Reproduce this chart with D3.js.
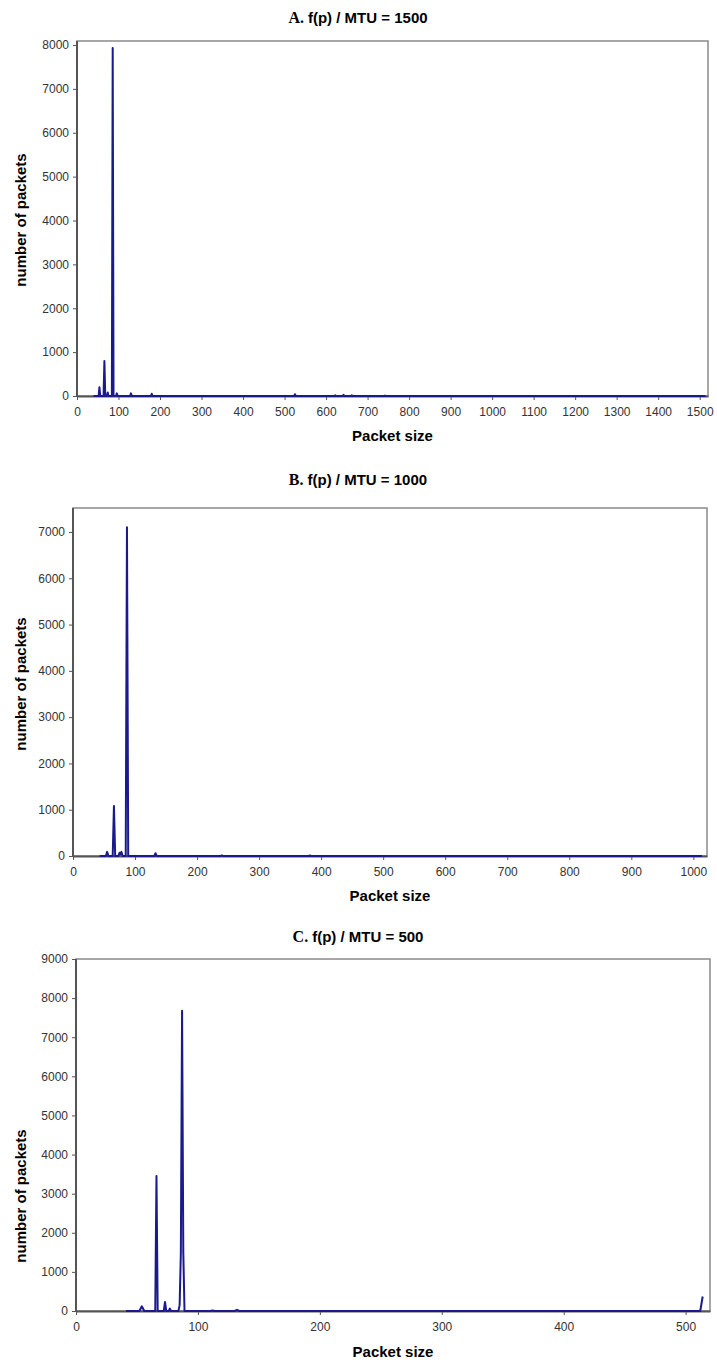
<!DOCTYPE html>
<html>
<head>
<meta charset="utf-8">
<script src="https://cdn.jsdelivr.net/npm/d3@7"></script>
<style>
  body { margin: 0; background: #fff; }
  text { font-family: 'Liberation Sans', Arial, sans-serif; }
</style>
</head>
<body>
<div id="viz"></div>
<script>
(function () {
  'use strict';

  // ---- data ----
  // A. MTU = 1500
  var sizesA  = [40, 52, 54, 56, 64, 66, 68, 72, 74, 76, 84, 86, 88, 94, 96, 98, 128, 130, 132, 178, 180, 182, 523, 525, 527, 620, 622, 624, 640, 642, 644, 660, 662, 664, 740, 742, 744, 1514];
  var countsA = [0, 0, 200, 0, 0, 800, 0, 0, 80, 0, 0, 7930, 0, 0, 60, 0, 0, 60, 0, 0, 50, 0, 0, 40, 0, 0, 15, 0, 0, 25, 0, 0, 15, 0, 0, 10, 0, 0];
  var xTicksA = [0, 100, 200, 300, 400, 500, 600, 700, 800, 900, 1000, 1100, 1200, 1300, 1400, 1500];
  var yTicksA = [0, 1000, 2000, 3000, 4000, 5000, 6000, 7000, 8000];

  // B. MTU = 1000
  var sizesB  = [43, 53, 55, 57, 64, 66, 68, 73, 75, 76, 78, 80, 85, 87, 89, 131, 133, 135, 238, 240, 242, 380, 382, 384, 1014];
  var countsB = [0, 0, 90, 0, 0, 1080, 0, 0, 70, 30, 90, 0, 0, 7100, 0, 0, 60, 0, 0, 15, 0, 0, 10, 0, 0];
  var xTicksB = [0, 100, 200, 300, 400, 500, 600, 700, 800, 900, 1000];
  var yTicksB = [0, 1000, 2000, 3000, 4000, 5000, 6000, 7000];

  // C. MTU = 500
  var sizesC  = [41, 52, 54, 56, 65, 66, 67, 72, 73, 74, 76, 77, 78, 84, 85, 86, 87, 88, 89, 110, 112, 114, 130, 132, 134, 512, 514];
  var countsC = [0, 0, 120, 0, 0, 3450, 0, 0, 230, 0, 0, 60, 0, 0, 150, 1500, 7680, 1500, 0, 0, 10, 0, 0, 30, 0, 0, 370];
  var xTicksC = [0, 100, 200, 300, 400, 500];
  var yTicksC = [0, 1000, 2000, 3000, 4000, 5000, 6000, 7000, 8000, 9000];

  var xLabel = 'Packet size';
  var yLabel = 'number of packets';

  // ---- layout ----
  var panels = [
    { letter: 'A.', title: 'f(p) / MTU = 1500', sizes: sizesA, counts: countsA, xTicks: xTicksA, yTicks: yTicksA,
      xMax: 1520, left: 77, right: 708, top: 41, bottom: 396, yMax: 8000, yMaxPx: 45, titleY: 23, xLabelY: 441, yLabelY: 220 },
    { letter: 'B.', title: 'f(p) / MTU = 1000', sizes: sizesB, counts: countsB, xTicks: xTicksB, yTicks: yTicksB,
      xMax: 1022, left: 73, right: 707, top: 508, bottom: 856, yMax: 7000, yMaxPx: 532, titleY: 485, xLabelY: 901, yLabelY: 684 },
    { letter: 'C.', title: 'f(p) / MTU = 500', sizes: sizesC, counts: countsC, xTicks: xTicksC, yTicks: yTicksC,
      xMax: 520, left: 76, right: 710, top: 959, bottom: 1311, yMax: 9000, yMaxPx: 959, titleY: 942, xLabelY: 1357, yLabelY: 1196 }
  ];

  var svg = d3.select('#viz')
    .append('svg')
    .attr('width', 717)
    .attr('height', 1366)
    .style('display', 'block');

  panels.forEach(drawPanel);

  function drawPanel(p) {
    var x = d3.scaleLinear().domain([0, p.xMax]).range([p.left, p.right]);
    var y = d3.scaleLinear().domain([0, p.yMax]).range([p.bottom, p.yMaxPx]);
    var g = svg.append('g');

    // plot frame (top / right)
    g.append('rect')
      .attr('x', p.left).attr('y', p.top)
      .attr('width', p.right - p.left).attr('height', p.bottom - p.top)
      .attr('fill', 'none')
      .attr('stroke', '#8a8a8a')
      .attr('stroke-width', 1.5);

    var xAxis = g.append('g')
      .attr('transform', 'translate(0,' + p.bottom + ')')
      .call(d3.axisBottom(x).tickValues(p.xTicks).tickSize(4).tickSizeOuter(0).tickFormat(d3.format('d')));
    var yAxis = g.append('g')
      .attr('transform', 'translate(' + p.left + ',0)')
      .call(d3.axisLeft(y).tickValues(p.yTicks).tickSize(4).tickSizeOuter(0).tickFormat(d3.format('d')));

    [xAxis, yAxis].forEach(function (a) {
      a.select('.domain').attr('stroke', '#555').attr('stroke-width', 2);
      a.selectAll('.tick line').attr('stroke', '#555').attr('stroke-width', 1);
      a.selectAll('.tick text')
        .attr('fill', '#333')
        .style('font-size', '12px')
        .style('font-family', "'Liberation Sans', Arial, sans-serif");
    });
    xAxis.selectAll('.tick text').attr('dy', '1.05em');
    yAxis.selectAll('.tick text').attr('x', -8);
    yAxis.select('.domain').attr('d', 'M0,' + p.bottom + 'V' + p.top);

    // series line
    var pts = p.sizes.map(function (s, i) { return [s, p.counts[i]]; });
    g.append('path')
      .datum(pts)
      .attr('fill', 'none')
      .attr('stroke', '#1a1a8c')
      .attr('stroke-width', 2)
      .attr('stroke-linejoin', 'round')
      .attr('d', d3.line().x(function (d) { return x(d[0]); }).y(function (d) { return y(d[1]); }));

    // title
    var t = svg.append('text')
      .attr('x', 358)
      .attr('y', p.titleY)
      .attr('text-anchor', 'middle')
      .style('font-weight', 'bold');
    t.append('tspan')
      .style('font-family', "'Liberation Serif', 'Times New Roman', serif")
      .style('font-size', '16px')
      .text(p.letter + ' ');
    t.append('tspan')
      .style('font-family', "'Liberation Sans Narrow', 'Liberation Sans', Arial, sans-serif")
      .style('font-size', '15px')
      .text(p.title);

    // axis titles
    svg.append('text')
      .attr('x', (p.left + p.right) / 2)
      .attr('y', p.xLabelY)
      .attr('text-anchor', 'middle')
      .style('font-weight', 'bold')
      .style('font-size', '15px')
      .text(xLabel);

    svg.append('text')
      .attr('transform', 'translate(26,' + p.yLabelY + ') rotate(-90)')
      .attr('text-anchor', 'middle')
      .style('font-weight', 'bold')
      .style('font-size', '15px')
      .text(yLabel);
  }
}());
</script>
</body>
</html>
